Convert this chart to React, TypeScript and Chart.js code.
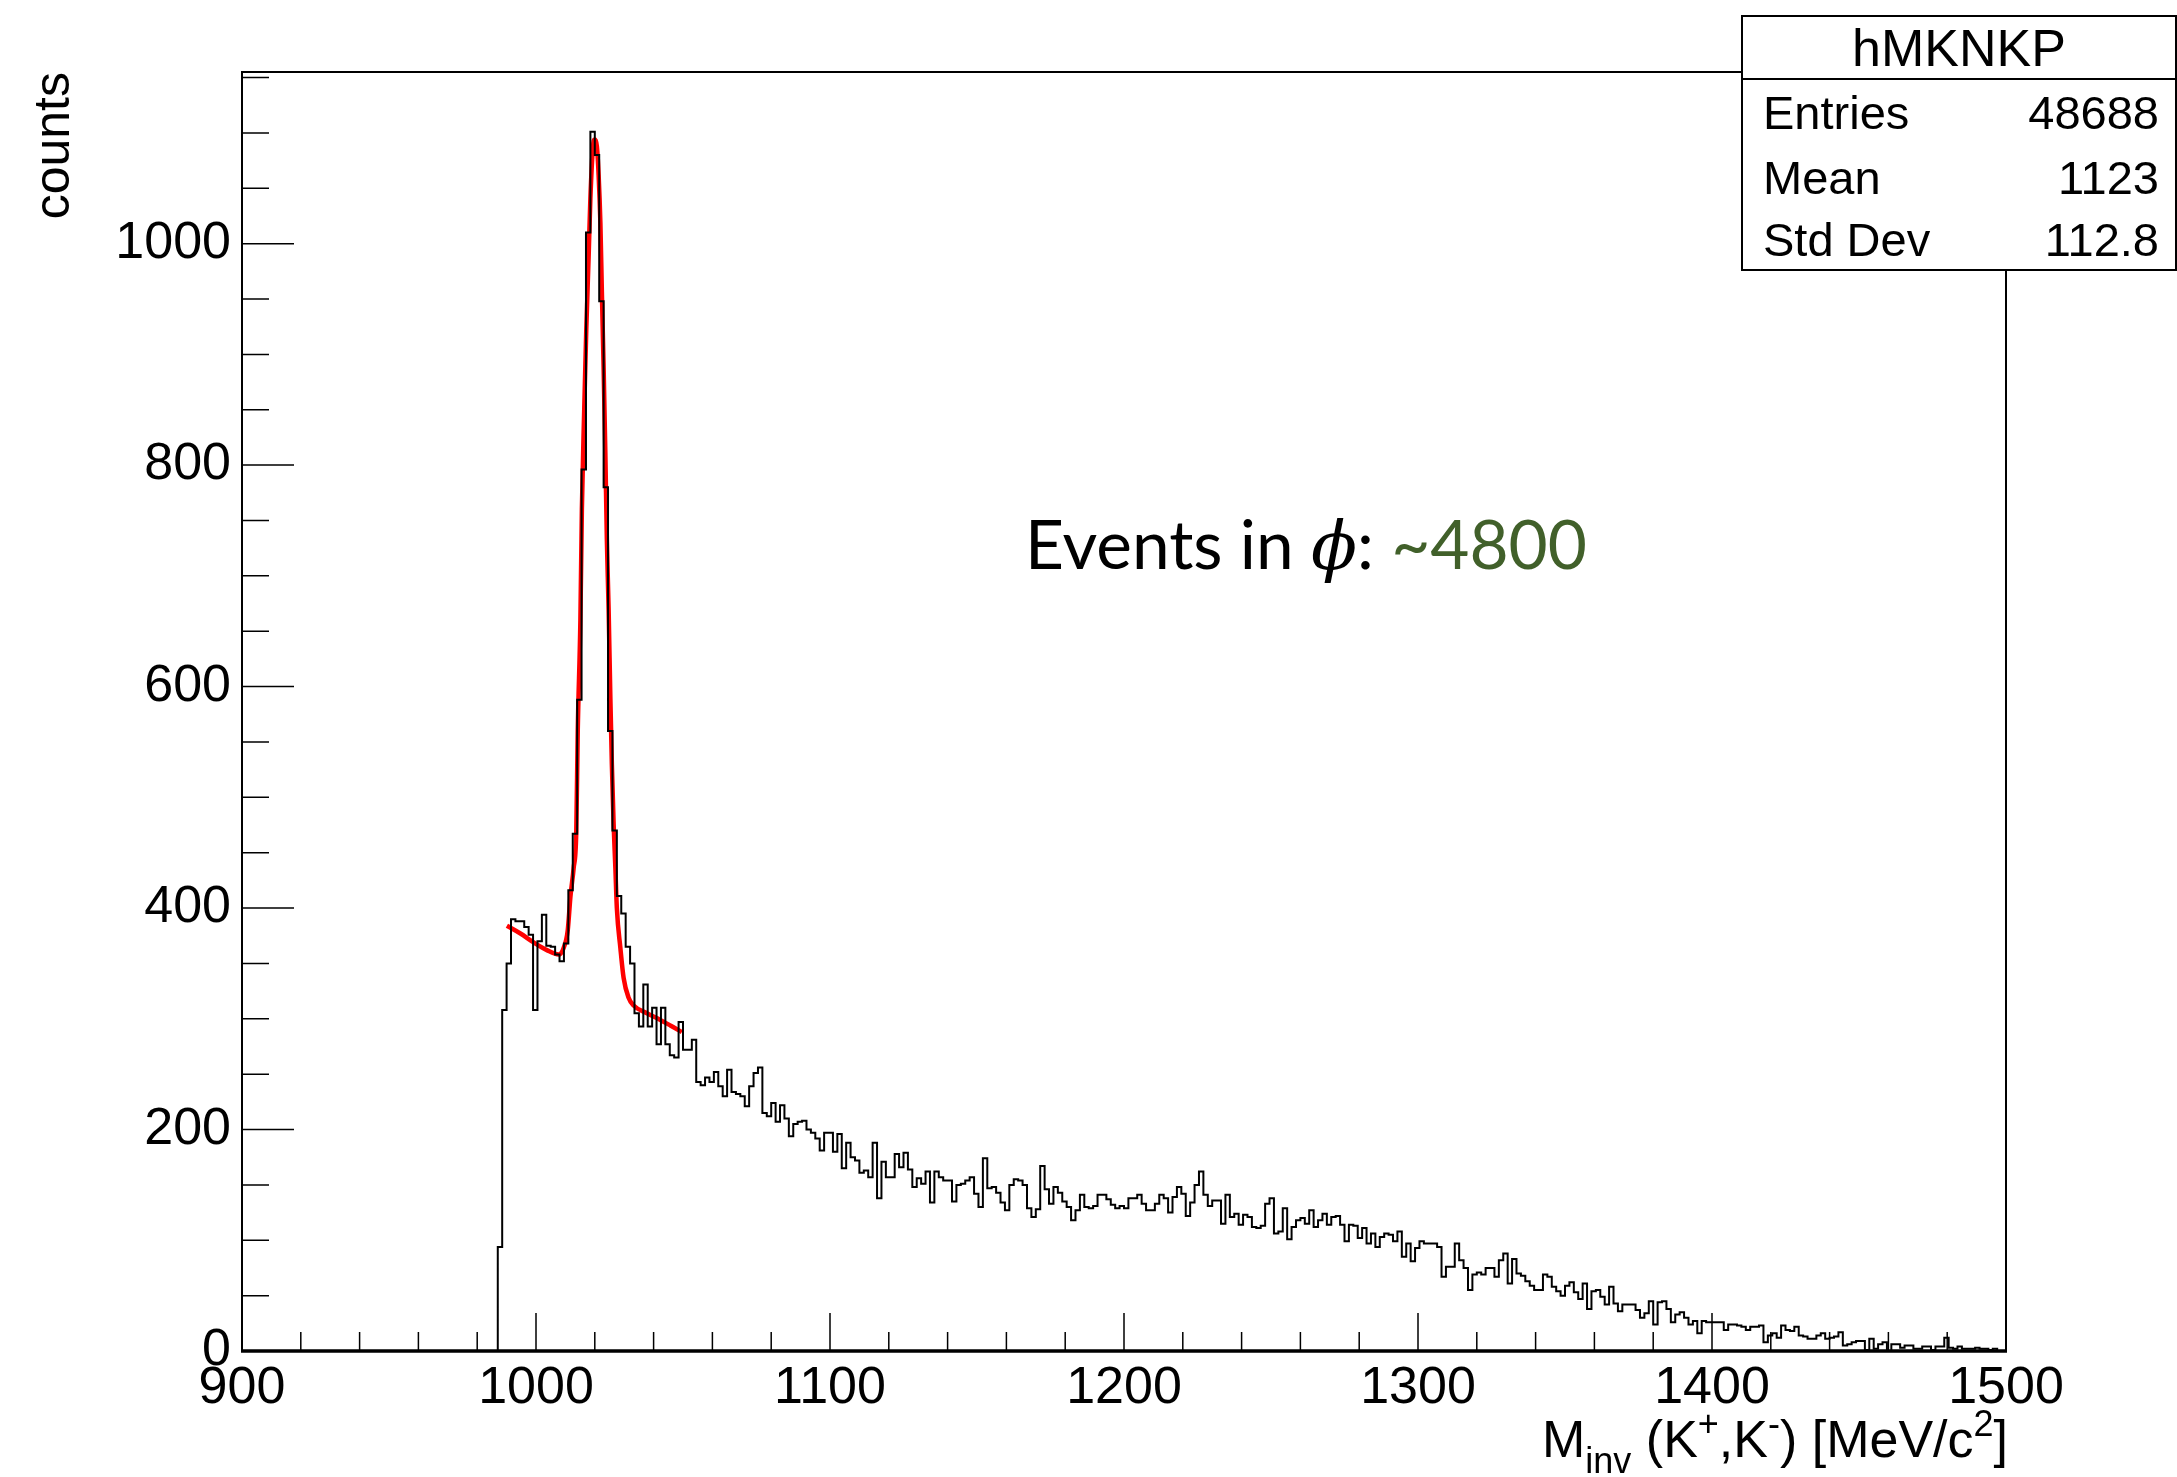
import React, { useEffect, useRef } from 'react';
import { Chart, registerables } from 'chart.js';

Chart.register(...registerables);

// ---------------- data ----------------
const MASS_MIN = 900;
const MASS_MAX = 1500;
const BIN_WIDTH = 1.5;
const FIRST_FILLED_EDGE = 987; // bins below this edge are empty
const Y_MAX = 1155;

// histogram counts per 1.5 MeV bin, starting at 987 MeV
const counts: number[] = [
  // 987 - 1053
  94, 308, 350, 390, 388, 388, 383, 376, 308, 370,
  394, 366, 365, 358, 352, 368, 416, 467, 588, 796,
  1010, 1101, 1080, 948, 780, 560, 470, 411, 395, 365,
  350, 305, 293, 331, 293, 310, 277, 310, 277, 267,
  265, 297, 272, 272, 281,
  // 1054.5 - 1183.5
  243, 240, 247, 243, 252, 239, 230, 254, 234, 232,
  230, 221, 239, 251, 256, 215, 212, 224, 207, 222,
  210, 194, 205, 207, 208, 200, 197, 192, 181, 197,
  197, 180, 196, 165, 188, 175, 172, 161, 163, 157,
  188, 138, 171, 157, 157, 178, 166, 179, 164, 148,
  156, 151, 162, 134, 162, 157, 154, 154, 135, 150,
  151, 154, 157, 142, 130, 174, 147, 148, 143, 134,
  127, 150, 155, 154, 150, 129, 121, 128, 167, 146,
  133, 148, 143, 135, 130, 118, 127,
  // 1185 - 1320
  141, 130, 129, 131, 141, 141, 137, 132, 129, 131,
  129, 138, 138, 141, 133, 127, 127, 133, 141, 138,
  125, 139, 148, 142, 122, 134, 150, 162, 141, 131,
  136, 136, 115, 141, 121, 124, 114, 123, 121, 112,
  111, 113, 133, 138, 106, 108, 129, 101, 112, 118,
  120, 115, 127, 112, 118, 124, 114, 121, 122, 114,
  99, 114, 113, 102, 111, 97, 106, 94, 103, 106,
  105, 99, 108, 85, 97, 81, 93, 99, 97, 97,
  97, 94, 67, 76, 76, 97, 82, 75, 55, 69,
  71,
  // 1321.5 - 1462.5
  69, 75, 75, 67, 82, 88, 61, 83, 70, 68,
  63, 59, 55, 55, 69, 67, 58, 54, 50, 59,
  62, 53, 47, 61, 38, 54, 55, 49, 42, 58,
  43, 36, 42, 42, 42, 37, 30, 34, 45, 24,
  44, 45, 38, 26, 33, 35, 30, 24, 27, 16,
  27, 26, 26, 26, 26, 19, 24, 24, 23, 22,
  19, 22, 22, 23, 8, 14, 16, 12, 23, 19,
  18, 22, 14, 13, 11, 11, 14, 16, 11, 12,
  13, 17, 5, 6, 8, 9, 9, 1, 11, 2,
  6, 8, 0, 6, 6,
  // 1464 - 1498.5
  3, 5, 5, 2, 2, 4, 4, 1, 4, 4,
  12, 3, 2, 4, 2, 2, 2, 3, 2, 2,
  1, 2, 0, 0,
];

// fit curve
const fitMass: number[] = [
  990.1, 994.7, 999.2, 1003.7, 1007.7, 1009.4, 1010.8, 1011.7, 1012.8, 1013.7,
  1014.2, 1015.1, 1015.6, 1016.4, 1017.1, 1017.9, 1018.5, 1019.4, 1019.9, 1020.7,
  1021.3, 1021.9, 1022.4, 1023.0, 1023.6, 1024.1, 1024.7, 1025.3, 1025.8, 1026.4,
  1027.0, 1027.5, 1028.7, 1029.8, 1031.5, 1033.2, 1037.7, 1042.3, 1045.7, 1049.6,
];
const fitCounts: number[] = [
  384, 377, 369, 362, 358, 364, 380, 410, 436, 469,
  560, 660, 760, 850, 922, 988, 1041, 1088, 1094, 1088,
  1062, 1019, 957, 888, 809, 733, 670, 589, 530, 476,
  436, 400, 364, 337, 319, 312, 305, 299, 294, 288,
];

const xTickValues = [900, 1000, 1100, 1200, 1300, 1400, 1500];
const yTickValues = [0, 200, 400, 600, 800, 1000];
const X_MINOR_STEP = 20;
const Y_MINOR_STEP = 50;

const statsTitle = 'hMKNKP';
const statsLabels = ['Entries', 'Mean', 'Std Dev'];
const statsValues = ['48688', '1123', '112.8'];

const annotationText = 'Events in ';
const annotationSymbol = '\u03D5';
const annotationValue = '~4800';

// ---------------- layout ----------------
const W = 2177;
const H = 1477;
const SANS = "'Liberation Sans', Arial, Helvetica, sans-serif";

const rootDecor = {
  id: 'rootDecor',
  afterDraw(chart: any) {
    const ctx: CanvasRenderingContext2D = chart.ctx;
    const xs = chart.scales.x;
    const ys = chart.scales.y;
    const { left, right, top, bottom } = chart.chartArea;
    ctx.save();
    ctx.strokeStyle = '#000';
    ctx.fillStyle = '#000';

    // inward ticks (ROOT style)
    ctx.lineWidth = 1.5;
    ctx.beginPath();
    for (let v = 0; v <= Y_MAX; v += Y_MINOR_STEP) {
      const y = ys.getPixelForValue(v);
      const len = v % 200 === 0 ? 52 : 27;
      ctx.moveTo(left, y);
      ctx.lineTo(left + len, y);
    }
    for (let v = MASS_MIN; v <= MASS_MAX; v += X_MINOR_STEP) {
      const x = xs.getPixelForValue(v);
      const len = v % 100 === 0 ? 38 : 19;
      ctx.moveTo(x, bottom);
      ctx.lineTo(x, bottom - len);
    }
    ctx.stroke();

    // frame
    ctx.lineWidth = 2;
    ctx.strokeRect(left, top, right - left, bottom - top);
    ctx.lineWidth = 3.5;
    ctx.beginPath();
    ctx.moveTo(left - 1, bottom);
    ctx.lineTo(right + 1, bottom);
    ctx.stroke();

    // y title
    ctx.save();
    ctx.translate(69, top);
    ctx.rotate(-Math.PI / 2);
    ctx.font = `50px ${SANS}`;
    ctx.textAlign = 'right';
    ctx.textBaseline = 'alphabetic';
    ctx.fillText('counts', 0, 0);
    ctx.restore();

    // x title with sub/superscripts
    const big = 52;
    const small = 36;
    const pieces = [
      { t: 'M', s: big, dy: 0 },
      { t: 'inv', s: small, dy: 16 },
      { t: ' (K', s: big, dy: 0 },
      { t: '+', s: small, dy: -21 },
      { t: ',K', s: big, dy: 0 },
      { t: '-', s: small, dy: -21 },
      { t: ') [MeV/c', s: big, dy: 0 },
      { t: '2', s: small, dy: -21 },
      { t: ']', s: big, dy: 0 },
    ];
    let total = 0;
    for (const p of pieces) {
      ctx.font = `${p.s}px ${SANS}`;
      total += ctx.measureText(p.t).width;
    }
    let cx = right + 2 - total;
    ctx.textAlign = 'left';
    ctx.textBaseline = 'alphabetic';
    for (const p of pieces) {
      ctx.font = `${p.s}px ${SANS}`;
      ctx.fillText(p.t, cx, 1457 + p.dy);
      cx += ctx.measureText(p.t).width;
    }

    // annotation
    const lato = (s: number) => `${s}px Lato, 'Open Sans', sans-serif`;
    const serifIt = (s: number) => `italic ${s}px 'DejaVu Serif', 'Liberation Serif', serif`;
    const parts = [
      { t: annotationText, f: lato, c: '#000' },
      { t: annotationSymbol, f: serifIt, c: '#000' },
      { t: ': ', f: lato, c: '#000' },
      { t: annotationValue, f: lato, c: '#41602a' },
    ];
    let w100 = 0;
    for (const p of parts) {
      ctx.font = p.f(100);
      w100 += ctx.measureText(p.t).width;
    }
    const annSize = (100 * 562) / w100;
    let ax = 1025;
    for (const p of parts) {
      ctx.font = p.f(annSize);
      ctx.fillStyle = p.c;
      ctx.fillText(p.t, ax, 569);
      ax += ctx.measureText(p.t).width;
    }

    // stats box
    const bx = 1742;
    const by = 16;
    const bw = W - 1 - bx;
    const bh = 254;
    ctx.fillStyle = '#fff';
    ctx.fillRect(bx, by, bw, bh);
    ctx.strokeStyle = '#000';
    ctx.lineWidth = 2;
    ctx.strokeRect(bx, by, bw, bh);
    ctx.beginPath();
    ctx.moveTo(bx, 79);
    ctx.lineTo(bx + bw, 79);
    ctx.stroke();
    ctx.fillStyle = '#000';
    ctx.font = `52px ${SANS}`;
    ctx.textAlign = 'center';
    ctx.fillText(statsTitle, 1959, 66);
    ctx.font = `47px ${SANS}`;
    const rowBase = [129, 194, 256];
    statsLabels.forEach((lab, i) => {
      ctx.textAlign = 'left';
      ctx.fillText(lab, 1763, rowBase[i]);
      ctx.textAlign = 'right';
      ctx.fillText(statsValues[i], 2159, rowBase[i]);
    });

    ctx.restore();
  },
};

export default function App() {
  const canvasRef = useRef<HTMLCanvasElement | null>(null);

  useEffect(() => {
    const canvas = canvasRef.current;
    if (!canvas) return;

    const histPoints: { x: number; y: number }[] = [{ x: MASS_MIN, y: 0 }];
    counts.forEach((c, i) => {
      histPoints.push({ x: FIRST_FILLED_EDGE + i * BIN_WIDTH, y: c });
    });
    histPoints.push({ x: MASS_MAX, y: 0 });

    const fitPoints = fitMass.map((m, i) => ({ x: m, y: fitCounts[i] }));

    const chart = new Chart(canvas, {
      type: 'line',
      data: {
        datasets: [
          {
            label: 'hMKNKP',
            data: histPoints,
            stepped: 'before',
            borderColor: '#000',
            borderWidth: 2,
            pointRadius: 0,
            fill: false,
          },
          {
            label: 'fit',
            data: fitPoints,
            borderColor: '#ff0000',
            borderWidth: 4.5,
            pointRadius: 0,
            fill: false,
            cubicInterpolationMode: 'monotone',
          },
        ],
      },
      options: {
        responsive: false,
        devicePixelRatio: 1,
        animation: false,
        parsing: false,
        layout: { padding: { left: 0, right: W - 2006, top: 72, bottom: 0 } },
        plugins: {
          legend: { display: false },
          tooltip: { enabled: false },
          title: { display: false },
        },
        scales: {
          x: {
            type: 'linear',
            min: MASS_MIN,
            max: MASS_MAX,
            grid: { display: false, drawTicks: false },
            border: { display: false },
            afterBuildTicks: (scale: any) => {
              scale.ticks = xTickValues.map((v) => ({ value: v }));
            },
            afterFit: (scale: any) => {
              scale.height = H - 1351;
            },
            ticks: {
              autoSkip: false,
              maxRotation: 0,
              padding: 6,
              color: '#000',
              font: { family: SANS, size: 52 },
              callback: (v: any) => String(v),
            },
          },
          y: {
            type: 'linear',
            min: 0,
            max: Y_MAX,
            grid: { display: false, drawTicks: false },
            border: { display: false },
            afterBuildTicks: (scale: any) => {
              scale.ticks = yTickValues.map((v) => ({ value: v }));
            },
            afterFit: (scale: any) => {
              scale.width = 242;
            },
            ticks: {
              autoSkip: false,
              padding: 11,
              color: '#000',
              font: { family: SANS, size: 52 },
              callback: (v: any) => String(v),
            },
          },
        },
      },
      plugins: [rootDecor],
    } as any);

    return () => chart.destroy();
  }, []);

  return (
    <div style={{ position: 'absolute', left: 0, top: 0, width: W, height: H, background: '#fff' }}>
      <canvas ref={canvasRef} width={W} height={H} style={{ width: W, height: H, display: 'block' }} />
    </div>
  );
}
